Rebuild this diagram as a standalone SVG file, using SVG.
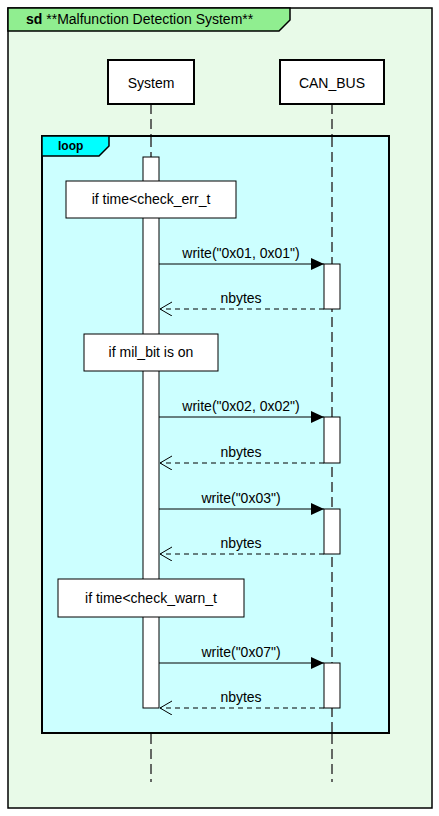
<svg xmlns="http://www.w3.org/2000/svg" width="439" height="816" viewBox="0 0 439 816">
<style>
text{font-family:"Liberation Sans",Arial,sans-serif;font-size:14px;fill:#000}
.c{text-anchor:middle}
.b{font-weight:bold}
.part{fill:#fff;stroke:#000;stroke-width:2}
.life{stroke:#383838;stroke-width:1.5;stroke-dasharray:10,5;fill:none}
.act{fill:#fff;stroke:#000;stroke-width:1}
.note{fill:#fff;stroke:#000;stroke-width:1}
.msg{stroke:#000;stroke-width:1;fill:none}
.ret{stroke:#000;stroke-width:1;fill:none;stroke-dasharray:5,4}
</style>
<defs>
<marker id="fa" markerWidth="14" markerHeight="12" refX="13" refY="6" orient="auto" markerUnits="userSpaceOnUse">
<path d="M0,0 L13,6 L0,12 Z" fill="#000"/>
</marker>
<marker id="oa" markerWidth="14" markerHeight="16" refX="12" refY="7" orient="auto" markerUnits="userSpaceOnUse">
<path d="M0,0 L12,7 L0,14" fill="none" stroke="#000" stroke-width="1"/>
</marker>
</defs>
<g id="frame">
<rect x="8" y="8" width="424" height="800" fill="#E8FAE8" stroke="#000" stroke-width="1.5"/>
<path d="M8,8 L290,8 L290,20 L279,31 L8,31 Z" fill="#90EE90" stroke="#000" stroke-width="1.5"/>
<text x="26" y="24"><tspan class="b">sd</tspan> **Malfunction Detection System**</text>
</g>
<g id="lifelines">
<line class="life" x1="151" y1="104" x2="151" y2="782"/>
<line class="life" x1="332" y1="104" x2="332" y2="782"/>
</g>
<g id="System">
<rect class="part" x="108" y="60" width="86" height="44"/>
<text class="c" x="151" y="88">System</text>
</g>
<g id="CAN_BUS">
<rect class="part" x="280" y="60" width="104" height="44"/>
<text class="c" x="332" y="88">CAN_BUS</text>
</g>
<g id="loop">
<rect x="42" y="136" width="347" height="597" fill="#CCFFFF" stroke="#000" stroke-width="2"/>
<path d="M42,136 L109,136 L109,146 L99,156 L42,156 Z" fill="#00FFFF" stroke="#000" stroke-width="1.5"/>
<text class="b" x="58" y="150" style="font-size:12px">loop</text>
<line class="life" x1="151" y1="137" x2="151" y2="157"/>
<line class="life" x1="332" y1="137" x2="332" y2="732"/>
</g>
<g id="activations">
<rect class="act" x="143" y="157" width="16" height="551"/>
<rect class="act" x="324" y="264" width="16" height="45"/>
<rect class="act" x="324" y="417" width="16" height="46"/>
<rect class="act" x="324" y="509" width="16" height="45"/>
<rect class="act" x="324" y="663" width="16" height="45"/>
</g>
<g id="note1">
<rect class="note" x="66" y="181" width="170" height="37"/>
<text class="c" x="151" y="204">if time&lt;check_err_t</text>
</g>
<g id="note2">
<rect class="note" x="84" y="334" width="134" height="37"/>
<text class="c" x="151" y="357">if mil_bit is on</text>
</g>
<g id="note3">
<rect class="note" x="58" y="579" width="186" height="38"/>
<text class="c" x="151" y="603">if time&lt;check_warn_t</text>
</g>
<g id="connectors">
<line class="msg" x1="159" y1="264" x2="324" y2="264" marker-end="url(#fa)"/>
<text class="c" x="241" y="258">write("0x01, 0x01")</text>
<line class="ret" x1="324" y1="309" x2="160" y2="309" marker-end="url(#oa)"/>
<text class="c" x="241" y="303">nbytes</text>
<line class="msg" x1="159" y1="417" x2="324" y2="417" marker-end="url(#fa)"/>
<text class="c" x="241" y="411">write("0x02, 0x02")</text>
<line class="ret" x1="324" y1="463" x2="160" y2="463" marker-end="url(#oa)"/>
<text class="c" x="241" y="457">nbytes</text>
<line class="msg" x1="159" y1="509" x2="324" y2="509" marker-end="url(#fa)"/>
<text class="c" x="241" y="503">write("0x03")</text>
<line class="ret" x1="324" y1="554" x2="160" y2="554" marker-end="url(#oa)"/>
<text class="c" x="241" y="548">nbytes</text>
<line class="msg" x1="159" y1="663" x2="324" y2="663" marker-end="url(#fa)"/>
<text class="c" x="241" y="657">write("0x07")</text>
<line class="ret" x1="324" y1="708" x2="160" y2="708" marker-end="url(#oa)"/>
<text class="c" x="241" y="702">nbytes</text>
</g>
</svg>
